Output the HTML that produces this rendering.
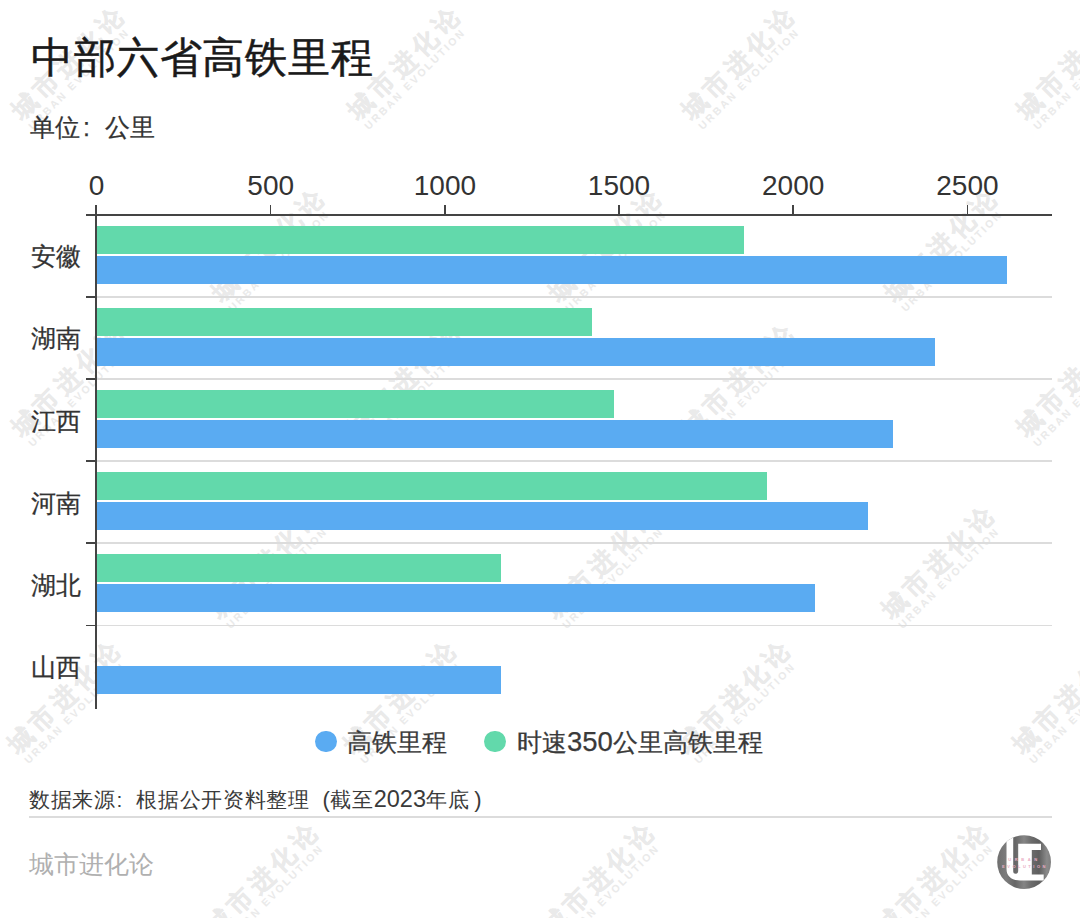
<!DOCTYPE html>
<html><head><meta charset="utf-8">
<style>
html,body{margin:0;padding:0;background:#fff;}
body{width:1080px;height:918px;position:relative;overflow:hidden;font-family:"Liberation Sans",sans-serif;}
.t{position:absolute;white-space:nowrap;line-height:1;}
.title{font-size:42px;letter-spacing:0.8px;-webkit-text-stroke:0.5px #1a1a1a;color:#1a1a1a;}
.sub{font-size:25px;color:#333;-webkit-text-stroke:0.25px #333;}
.xl{font-size:28px;color:#333;text-align:center;}
.yl{font-size:25px;color:#333;text-align:right;-webkit-text-stroke:0.25px #333;}
.col{display:inline-block;width:25px;text-indent:3px;}
.col2{display:inline-block;width:21px;text-indent:1px;}
.dg{font-size:27.5px;line-height:0;}
.lp{display:inline-block;width:21px;text-align:right;padding-right:0px;box-sizing:border-box;font-size:22px;line-height:0;}
.rp{display:inline-block;width:21px;text-indent:5px;font-size:22px;line-height:0;}
.dg2{font-size:23.5px;letter-spacing:0px;line-height:0;}
.leg{font-size:25px;color:#3a3a3a;-webkit-text-stroke:0.25px #3a3a3a;}
.src{font-size:21px;letter-spacing:0.62px;color:#3a3a3a;}
.brand{font-size:25px;color:#b0b0b0;}
.tick{position:absolute;width:1.5px;background:#444;}
.ytick{position:absolute;left:86px;width:10.5px;height:1.5px;background:#444;}
.grid{position:absolute;left:96.5px;width:955.5px;height:1.6px;background:#dcdcdc;}
.bar{position:absolute;}
.axis-h{position:absolute;left:96px;width:956px;height:2px;background:#444;}
.axis-v{position:absolute;left:95.2px;width:1.6px;background:#444;}
.dot{position:absolute;width:21.7px;height:21.7px;border-radius:50%;}
.sep{position:absolute;left:29px;width:1023px;height:1.6px;background:#dcdcdc;}
.logo{position:absolute;left:994px;top:832px;width:60px;height:60px;}
.wm{position:absolute;width:0;height:0;}
.wmi{position:absolute;left:0;top:0;transform-origin:0 0;transform:rotate(-45deg);}
.wm1{position:absolute;left:0;top:-26px;font-size:25px;font-weight:bold;letter-spacing:5px;color:#eaeaea;-webkit-text-stroke:0.3px #eaeaea;white-space:nowrap;line-height:26px;}
.wm2{position:absolute;left:1px;top:0px;font-size:10.5px;letter-spacing:2.4px;color:#eaeaea;white-space:nowrap;line-height:12px;font-weight:bold;}
</style></head><body>
<div class="wm" style="left:25.0px;top:124.0px"><div class="wmi"><div class="wm1">城市进化论</div><div class="wm2">URBAN EVOLUTION</div></div></div>
<div class="wm" style="left:360.5px;top:124.0px"><div class="wmi"><div class="wm1">城市进化论</div><div class="wm2">URBAN EVOLUTION</div></div></div>
<div class="wm" style="left:695.0px;top:124.0px"><div class="wmi"><div class="wm1">城市进化论</div><div class="wm2">URBAN EVOLUTION</div></div></div>
<div class="wm" style="left:1030.0px;top:124.0px"><div class="wmi"><div class="wm1">城市进化论</div><div class="wm2">URBAN EVOLUTION</div></div></div>
<div class="wm" style="left:225.0px;top:306.0px"><div class="wmi"><div class="wm1">城市进化论</div><div class="wm2">URBAN EVOLUTION</div></div></div>
<div class="wm" style="left:562.0px;top:306.0px"><div class="wmi"><div class="wm1">城市进化论</div><div class="wm2">URBAN EVOLUTION</div></div></div>
<div class="wm" style="left:898.0px;top:306.0px"><div class="wmi"><div class="wm1">城市进化论</div><div class="wm2">URBAN EVOLUTION</div></div></div>
<div class="wm" style="left:25.0px;top:441.0px"><div class="wmi"><div class="wm1">城市进化论</div><div class="wm2">URBAN EVOLUTION</div></div></div>
<div class="wm" style="left:360.5px;top:441.0px"><div class="wmi"><div class="wm1">城市进化论</div><div class="wm2">URBAN EVOLUTION</div></div></div>
<div class="wm" style="left:695.0px;top:441.0px"><div class="wmi"><div class="wm1">城市进化论</div><div class="wm2">URBAN EVOLUTION</div></div></div>
<div class="wm" style="left:1030.0px;top:441.0px"><div class="wmi"><div class="wm1">城市进化论</div><div class="wm2">URBAN EVOLUTION</div></div></div>
<div class="wm" style="left:223.0px;top:623.0px"><div class="wmi"><div class="wm1">城市进化论</div><div class="wm2">URBAN EVOLUTION</div></div></div>
<div class="wm" style="left:559.0px;top:623.0px"><div class="wmi"><div class="wm1">城市进化论</div><div class="wm2">URBAN EVOLUTION</div></div></div>
<div class="wm" style="left:895.0px;top:623.0px"><div class="wmi"><div class="wm1">城市进化论</div><div class="wm2">URBAN EVOLUTION</div></div></div>
<div class="wm" style="left:21.0px;top:758.0px"><div class="wmi"><div class="wm1">城市进化论</div><div class="wm2">URBAN EVOLUTION</div></div></div>
<div class="wm" style="left:356.5px;top:758.0px"><div class="wmi"><div class="wm1">城市进化论</div><div class="wm2">URBAN EVOLUTION</div></div></div>
<div class="wm" style="left:691.0px;top:758.0px"><div class="wmi"><div class="wm1">城市进化论</div><div class="wm2">URBAN EVOLUTION</div></div></div>
<div class="wm" style="left:1026.0px;top:758.0px"><div class="wmi"><div class="wm1">城市进化论</div><div class="wm2">URBAN EVOLUTION</div></div></div>
<div class="wm" style="left:219.0px;top:940.0px"><div class="wmi"><div class="wm1">城市进化论</div><div class="wm2">URBAN EVOLUTION</div></div></div>
<div class="wm" style="left:555.0px;top:940.0px"><div class="wmi"><div class="wm1">城市进化论</div><div class="wm2">URBAN EVOLUTION</div></div></div>
<div class="wm" style="left:889.0px;top:940.0px"><div class="wmi"><div class="wm1">城市进化论</div><div class="wm2">URBAN EVOLUTION</div></div></div>
<div class="t title" style="left:31.3px;top:36.5px">中部六省高铁里程</div>
<div class="t sub" style="left:30px;top:114.5px">单位<span class="col">:</span>公里</div>
<div class="t xl" style="left:36.5px;top:172px;width:120px">0</div>
<div class="tick" style="left:95.75px;top:205px;height:10px"></div>
<div class="t xl" style="left:210.7px;top:172px;width:120px">500</div>
<div class="tick" style="left:269.93px;top:205px;height:10px"></div>
<div class="t xl" style="left:384.9px;top:172px;width:120px">1000</div>
<div class="tick" style="left:444.11px;top:205px;height:10px"></div>
<div class="t xl" style="left:559.0px;top:172px;width:120px">1500</div>
<div class="tick" style="left:618.29px;top:205px;height:10px"></div>
<div class="t xl" style="left:733.2px;top:172px;width:120px">2000</div>
<div class="tick" style="left:792.47px;top:205px;height:10px"></div>
<div class="t xl" style="left:907.4px;top:172px;width:120px">2500</div>
<div class="tick" style="left:966.65px;top:205px;height:10px"></div>
<div class="grid" style="top:296.10px"></div>
<div class="ytick" style="top:296.15px"></div>
<div class="grid" style="top:378.20px"></div>
<div class="ytick" style="top:378.25px"></div>
<div class="grid" style="top:460.30px"></div>
<div class="ytick" style="top:460.35px"></div>
<div class="grid" style="top:542.40px"></div>
<div class="ytick" style="top:542.45px"></div>
<div class="grid" style="top:624.50px"></div>
<div class="ytick" style="top:624.55px"></div>
<div class="ytick" style="top:214.05px"></div>
<div class="bar" style="background:#62d9ab;left:96.5px;top:226.00px;width:647.6px;height:27.6px"></div>
<div class="bar" style="background:#5aabf2;left:96.5px;top:255.80px;width:910.0px;height:28px"></div>
<div class="t yl" style="left:0px;width:81px;top:244.3px">安徽</div>
<div class="bar" style="background:#62d9ab;left:96.5px;top:308.10px;width:495.7px;height:27.6px"></div>
<div class="bar" style="background:#5aabf2;left:96.5px;top:337.90px;width:838.7px;height:28px"></div>
<div class="t yl" style="left:0px;width:81px;top:326.4px">湖南</div>
<div class="bar" style="background:#62d9ab;left:96.5px;top:390.20px;width:517.2px;height:27.6px"></div>
<div class="bar" style="background:#5aabf2;left:96.5px;top:420.00px;width:796.1px;height:28px"></div>
<div class="t yl" style="left:0px;width:81px;top:408.5px">江西</div>
<div class="bar" style="background:#62d9ab;left:96.5px;top:472.30px;width:670.3px;height:27.6px"></div>
<div class="bar" style="background:#5aabf2;left:96.5px;top:502.10px;width:771.7px;height:28px"></div>
<div class="t yl" style="left:0px;width:81px;top:490.6px">河南</div>
<div class="bar" style="background:#62d9ab;left:96.5px;top:554.40px;width:404.2px;height:27.6px"></div>
<div class="bar" style="background:#5aabf2;left:96.5px;top:584.20px;width:718.8px;height:28px"></div>
<div class="t yl" style="left:0px;width:81px;top:572.7px">湖北</div>
<div class="bar" style="background:#5aabf2;left:96.5px;top:666.30px;width:404.2px;height:28px"></div>
<div class="t yl" style="left:0px;width:81px;top:654.8px">山西</div>
<div class="axis-h" style="top:213.80px"></div>
<div class="axis-v" style="top:205px;height:503.8px"></div>
<div class="dot" style="left:315px;top:730.5px;background:#5aabf2"></div>
<div class="t leg" style="left:347px;top:730px">高铁里程</div>
<div class="dot" style="left:484.2px;top:730.5px;background:#62d9ab"></div>
<div class="t leg" style="left:517px;top:730px">时速<span class="dg">350</span>公里高铁里程</div>
<div class="t src" style="left:29px;top:788.5px">数据来源<span class="col2">:</span>根据公开资料整理<span class="lp">(</span>截至<span class="dg2">2023</span>年底<span class="rp">)</span></div>
<div class="sep" style="top:816.3px"></div>
<div class="t brand" style="left:29px;top:852px">城市进化论</div>
<div class="logo"><svg width="60" height="60" viewBox="0 0 60 60">
<defs><clipPath id="c"><circle cx="30.1" cy="30.1" r="26.9"/></clipPath>
<linearGradient id="g" x1="0" y1="0" x2="1" y2="0">
<stop offset="0" stop-color="#6a6a6a"/><stop offset="0.2" stop-color="#7c7c7c"/><stop offset="0.35" stop-color="#666"/><stop offset="0.5" stop-color="#858585"/><stop offset="0.62" stop-color="#6c6c6c"/><stop offset="0.75" stop-color="#5e5e5e"/><stop offset="0.88" stop-color="#8a8a8a"/><stop offset="1" stop-color="#777"/>
</linearGradient></defs>
<g clip-path="url(#c)">
<rect x="0" y="0" width="60" height="60" fill="url(#g)"/>
<path d="M12.5,-2 H19.2 V39.3 A2.5,2.5 0 0 0 24.2,39.3 V11.8 H47 V18 H37.8 V42.5 H49.7 V48.4 H26 C17.5,48.4 12.5,44 12.5,37 Z" fill="#fff"/>
</g>
<text x="30.5" y="29.3" font-size="4" fill="#eaaec4" text-anchor="middle" letter-spacing="3.6" font-family="Liberation Sans" font-weight="bold">URBAN</text>
<text x="31" y="36.3" font-size="4" fill="#eaaec4" text-anchor="middle" letter-spacing="2.5" font-family="Liberation Sans" font-weight="bold">EVOLUTION</text>
</svg></div>
</body></html>
